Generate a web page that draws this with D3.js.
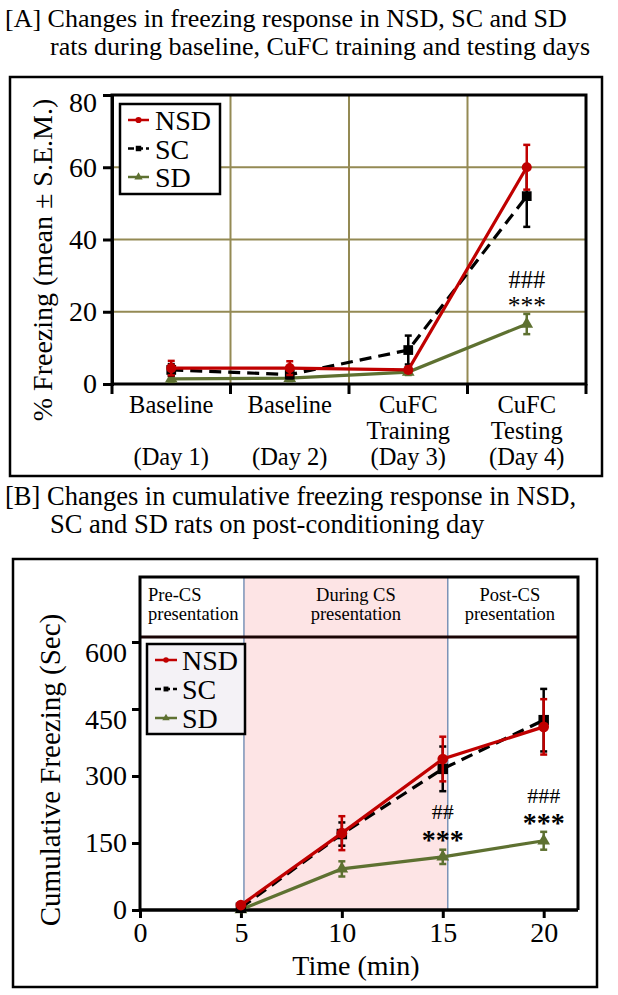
<!DOCTYPE html>
<html><head><meta charset="utf-8">
<script src="https://cdn.jsdelivr.net/npm/d3@7"></script>
<style>
body{margin:0;background:#fff}
svg{display:block}
text{font-family:"Liberation Serif","Times New Roman",serif;fill:#000}
</style>
</head><body>
<svg id="c" width="618" height="995"></svg>
<script>
// ---------- DATA ----------
// Panel A
const titleA = ["[A] Changes in freezing response in NSD, SC and SD", "rats during baseline, CuFC training and testing days"];
const categoriesA = ["Day 1", "Day 2", "Day 3", "Day 4"];
const tickLabelsA = [["Baseline", "", "(Day 1)"], ["Baseline", "", "(Day 2)"], ["CuFC", "Training", "(Day 3)"], ["CuFC", "Testing", "(Day 4)"]];
const yTicksA = [0, 20, 40, 60, 80];
const nsdA = [4.4, 4.4, 3.9, 60];
const nsdSemA = [2.0, 1.9, 0.7, 6.2];
const scA = [3.9, 2.6, 9.4, 52];
const scSemA = [1.6, 1.0, 4.0, 8.5];
const sdA = [1.4, 1.6, 3.3, 16.6];
const sdSemA = [0.8, 0.8, 0.8, 2.8];
const annotA = [{cat: "Day 4", lines: ["###", "***"]}];
const yLabelA = "% Freezing (mean \u00B1 S.E.M.)";

// Panel B
const titleB = ["[B] Changes in cumulative freezing response in NSD,", "SC and SD rats on post-conditioning day"];
const timeB = [5, 10, 15, 20];
const xTicksB = [0, 5, 10, 15, 20];
const yTicksB = [0, 150, 300, 450, 600];
const nsdB = [11, 172, 338, 410];
const nsdSemB = [4, 38, 50, 62];
const scB = [5, 170, 316, 425];
const scSemB = [4, 26, 50, 70];
const sdB = [1, 92, 119, 155];
const sdSemB = [2, 17, 16, 20];
const phaseNames = [["Pre-CS", "presentation"], ["During CS", "presentation"], ["Post-CS", "presentation"]];
const phaseBounds = [0, 5.15, 15.25, 21.7];
const annotB = [{t: 15, lines: ["##", "***"]}, {t: 20, lines: ["###", "***"]}];
const yLabelB = "Cumulative Freezing (Sec)";
const xLabelB = "Time (min)";

const seriesNames = ["NSD", "SC", "SD"];

// ---------- STYLE ----------
const RED = "#C00000", BLACK = "#000000", GREEN = "#5E7131", GRID = "#948A54";
const styles = {
  NSD: {color: RED, dash: null, sym: d3.symbolCircle},
  SC: {color: BLACK, dash: "12,7", sym: d3.symbolSquare},
  SD: {color: GREEN, dash: null, sym: d3.symbolTriangle}
};
const FS = 28;

const svg = d3.select("#c");

// multi-line text helper (single <text> with tspans)
function mtext(g, x, y, lines, lh, opts) {
  const t = g.append("text").attr("x", x).attr("y", y).attr("font-size", opts.size)
    .attr("text-anchor", opts.anchor || "start");
  if (opts.weight) t.attr("font-weight", opts.weight);
  let dy = 0;
  lines.forEach((s, j) => {
    if (!s) { dy += lh; return; }
    const sp = t.append("tspan").attr("x", opts.xs ? opts.xs[j] : x).attr("dy", j ? lh + dy : 0).text(s);
    dy = 0;
    if (opts.sizes) sp.attr("font-size", opts.sizes[j]);
    if (opts.weights && opts.weights[j]) sp.attr("font-weight", opts.weights[j]);
  });
  return t;
}

// ======================= PANEL A =======================
const gA = svg.append("g");
mtext(gA, 5, 27, titleA, 27.5, {size: 26, xs: [5, 50]});
gA.append("rect").attr("x", 10).attr("y", 77).attr("width", 592).attr("height", 399)
  .attr("fill", "none").attr("stroke", "#000").attr("stroke-width", 2.5);

const xA = d3.scaleBand().domain(categoriesA).range([112, 586]);
const yA = d3.scaleLinear().domain([0, 80]).range([384, 95]);
const cx = c => xA(c) + xA.bandwidth() / 2;

// grid
gA.append("g").selectAll("line").data(yTicksA.slice(1, -1)).join("line")
  .attr("x1", 112).attr("x2", 586).attr("y1", d => yA(d)).attr("y2", d => yA(d))
  .attr("stroke", GRID).attr("stroke-width", 2);
gA.append("g").selectAll("line").data(categoriesA.slice(1)).join("line")
  .attr("x1", d => xA(d)).attr("x2", d => xA(d)).attr("y1", 95).attr("y2", 384)
  .attr("stroke", GRID).attr("stroke-width", 2);

// frame
gA.append("rect").attr("x", 112).attr("y", 95).attr("width", 474).attr("height", 289)
  .attr("fill", "none").attr("stroke", "#000").attr("stroke-width", 3);

// y axis
const yAxA = d3.axisLeft(yA).tickValues(yTicksA).tickSize(9).tickPadding(6);
const gyA = gA.append("g").attr("transform", "translate(112,0)").call(yAxA);
gyA.select(".domain").attr("stroke-width", 3);
gyA.selectAll(".tick line").attr("stroke-width", 3);
gyA.selectAll(".tick text").attr("font-size", FS).attr("font-family", "Liberation Serif")
  .attr("dy", d => d === 80 ? "0.6em" : "0.32em");

// x axis (boundary ticks)
const xBounds = categoriesA.map(c => xA(c)).concat([586]);
gA.append("g").selectAll("line").data(xBounds).join("line")
  .attr("x1", d => d).attr("x2", d => d).attr("y1", 384).attr("y2", 394)
  .attr("stroke", "#000").attr("stroke-width", 3);
const lblA = gA.append("g");
categoriesA.forEach((c, i) => {
  mtext(lblA, cx(c), 413, tickLabelsA[i], 26, {size: 24.5, anchor: "middle"});
});
gA.append("text").attr("transform", "translate(52,260) rotate(-90)")
  .attr("text-anchor", "middle").attr("font-size", FS).text(yLabelA);

function drawSeries(g, xs, xf, yf, vals, sems, name, capW, symSize) {
  const st = styles[name];
  const pts = xs.map((x, i) => ({x: xf(x), y: yf(vals[i]), lo: yf(vals[i] - sems[i]), hi: yf(vals[i] + sems[i])}));
  const eg = g.append("g");
  eg.selectAll("line.v").data(pts).join("line").attr("class", "v")
    .attr("x1", d => d.x).attr("x2", d => d.x).attr("y1", d => d.lo).attr("y2", d => d.hi)
    .attr("stroke", st.color).attr("stroke-width", 2.5);
  ["lo", "hi"].forEach(k => eg.selectAll("line." + k).data(pts).join("line").attr("class", k)
    .attr("x1", d => d.x - capW / 2).attr("x2", d => d.x + capW / 2).attr("y1", d => d[k]).attr("y2", d => d[k])
    .attr("stroke", st.color).attr("stroke-width", 2.5));
  g.append("path").datum(pts).attr("d", d3.line().x(d => d.x).y(d => d.y))
    .attr("fill", "none").attr("stroke", st.color).attr("stroke-width", 3.2)
    .attr("stroke-dasharray", st.dash);
  g.append("g").selectAll("path").data(pts).join("path")
    .attr("transform", d => `translate(${d.x},${d.y})`)
    .attr("d", d3.symbol().type(st.sym).size(symSize[name])).attr("fill", st.color);
}
const plotA = gA.append("g");
const symA = {NSD: 80, SC: 95, SD: 70};
drawSeries(plotA, categoriesA, cx, yA, sdA, sdSemA, "SD", 7, symA);
drawSeries(plotA, categoriesA, cx, yA, scA, scSemA, "SC", 7, symA);
drawSeries(plotA, categoriesA, cx, yA, nsdA, nsdSemA, "NSD", 7, symA);

annotA.forEach(a => {
  mtext(gA, cx(a.cat), 288, a.lines, 25.5, {size: 25, anchor: "middle", sizes: [24.5, 25.5]});
});

// legend
function legend(g, x0, y0, w, h, rows, fill, lx1, lx2, tx, symL) {
  g.append("rect").attr("x", x0).attr("y", y0).attr("width", w).attr("height", h)
    .attr("fill", fill).attr("stroke", "#000").attr("stroke-width", 2.5);
  seriesNames.forEach((n, i) => {
    const st = styles[n], cy = rows[i];
    g.append("line").attr("x1", lx1).attr("x2", lx2).attr("y1", cy).attr("y2", cy)
      .attr("stroke", st.color).attr("stroke-width", 2.5).attr("stroke-dasharray", st.dash ? "6,3" : null);
    g.append("path").attr("transform", `translate(${(lx1 + lx2) / 2},${cy})`)
      .attr("d", d3.symbol().type(st.sym).size(symL)).attr("fill", st.color);
  });
  mtext(g, tx, rows[0] + 10, seriesNames, rows[1] - rows[0], {size: FS});
}
legend(gA, 120, 104, 100, 90, [120, 148.5, 177], "#fff", 128, 149, 155, 30);

// ======================= PANEL B =======================
const gB = svg.append("g");
mtext(gB, 5, 505, titleB, 28, {size: 26.5, xs: [5, 50]});
gB.append("rect").attr("x", 13).attr("y", 559).attr("width", 584).attr("height", 428)
  .attr("fill", "none").attr("stroke", "#000").attr("stroke-width", 2.5);

const xB = d3.scaleLinear().domain([0, 21.7]).range([140, 578]);
const yB = d3.scaleLinear().domain([0, 600]).range([910, 642]);
const topB = 577, headB = 637;

// during CS shading
gB.append("rect").attr("x", xB(phaseBounds[1])).attr("y", topB)
  .attr("width", xB(phaseBounds[2]) - xB(phaseBounds[1])).attr("height", yB(0) - topB)
  .attr("fill", "#FDE4E5").attr("stroke", "#5B7BA8").attr("stroke-width", 1.2);

// header line + frame
gB.append("line").attr("x1", 140).attr("x2", 578).attr("y1", headB).attr("y2", headB)
  .attr("stroke", "#1a0505").attr("stroke-width", 3);
gB.append("path").attr("d", `M140,910V${topB}H578V910`).attr("fill", "none")
  .attr("stroke", "#000").attr("stroke-width", 3);

// header texts
phaseNames.forEach((p, i) => {
  const a = xB(phaseBounds[i]), b = xB(phaseBounds[i + 1]);
  const anchor = i === 0 ? "start" : "middle";
  const x = i === 0 ? a + 8 : (a + b) / 2 + (i === 1 ? 10 : -3);
  mtext(gB, x, 601, p, 19, {size: 18.5, anchor});
});

// axes
const yAxB = d3.axisLeft(yB).tickValues(yTicksB).tickSize(8).tickPadding(5);
const gyB = gB.append("g").attr("transform", "translate(140,0)").call(yAxB);
gyB.select(".domain").remove();
gyB.selectAll(".tick line").attr("stroke-width", 3);
gyB.selectAll(".tick text").attr("font-size", FS).attr("font-family", "Liberation Serif")
  .attr("dy", d => d >= 450 ? "0.68em" : "0.32em");

const xAxB = d3.axisBottom(xB).tickValues(xTicksB).tickSize(8).tickPadding(4);
const gxB = gB.append("g").attr("transform", "translate(0,910)").call(xAxB);
gxB.select(".domain").attr("d", "M140,0H578").attr("stroke-width", 3.5);
gxB.selectAll(".tick line").attr("stroke-width", 3);
gxB.selectAll(".tick text").attr("font-size", FS).attr("font-family", "Liberation Serif");

gB.append("text").attr("x", 356).attr("y", 975).attr("text-anchor", "middle").attr("font-size", FS).text(xLabelB);
gB.append("text").attr("transform", "translate(60,770) rotate(-90)")
  .attr("text-anchor", "middle").attr("font-size", 29).text(yLabelB);

const plotB = gB.append("g");
const symB = {NSD: 90, SC: 110, SD: 70};
drawSeries(plotB, timeB, xB, yB, sdB, sdSemB, "SD", 7, symB);
drawSeries(plotB, timeB, xB, yB, scB, scSemB, "SC", 7, symB);
drawSeries(plotB, timeB, xB, yB, nsdB, nsdSemB, "NSD", 7, symB);

annotB.forEach(a => {
  mtext(gB, xB(a.t), a.t === 15 ? 819 : 803, a.lines, a.t === 15 ? 30 : 29,
    {size: 22, anchor: "middle", sizes: [22, 28], weights: [null, "bold"]});
});

legend(gB, 147, 644, 98, 90, [660, 689, 718], "#F4F2F6", 155, 177, 182, 24);
</script>
</body></html>
